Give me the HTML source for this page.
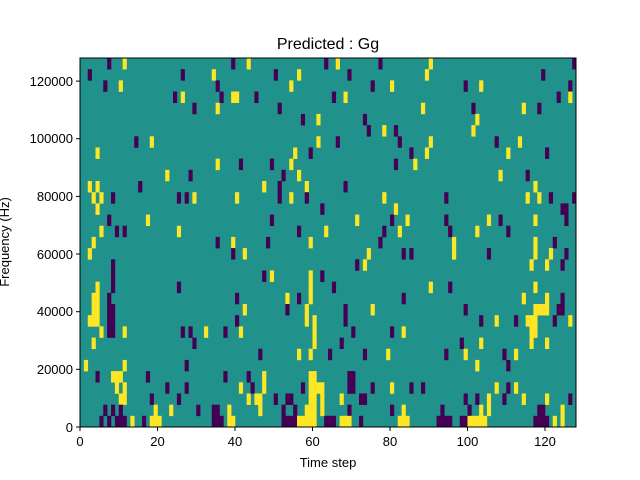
<!DOCTYPE html>
<html><head><meta charset="utf-8"><style>
html,body{margin:0;padding:0;background:#fff;}
svg{display:block;font-family:"Liberation Sans","DejaVu Sans",sans-serif;}
</style></head><body>
<svg id="s" width="640" height="480" viewBox="0 0 640 480" xmlns="http://www.w3.org/2000/svg">
<rect x="0" y="0" width="640" height="480" fill="#fff"/>
<g id="cells"><rect x="80" y="58" width="496" height="369" fill="#21918c"/></g>
<rect x="80" y="58" width="496" height="369" fill="none" stroke="#000" stroke-width="1"/>
<text x="328" y="49" font-size="16" text-anchor="middle">Predicted : Gg</text>
<g font-size="13" text-anchor="middle">
<text x="80" y="446">0</text><text x="157.5" y="446">20</text><text x="235" y="446">40</text><text x="312.5" y="446">60</text><text x="390" y="446">80</text><text x="467.5" y="446">100</text><text x="545" y="446">120</text>
</g>
<g stroke="#000" stroke-width="1">
<line x1="80" y1="427" x2="80" y2="431"/><line x1="157.5" y1="427" x2="157.5" y2="431"/><line x1="235" y1="427" x2="235" y2="431"/><line x1="312.5" y1="427" x2="312.5" y2="431"/><line x1="390" y1="427" x2="390" y2="431"/><line x1="467.5" y1="427" x2="467.5" y2="431"/><line x1="545" y1="427" x2="545" y2="431"/>
<line x1="76" y1="427" x2="80" y2="427"/><line x1="76" y1="369.3" x2="80" y2="369.3"/><line x1="76" y1="311.7" x2="80" y2="311.7"/><line x1="76" y1="254" x2="80" y2="254"/><line x1="76" y1="196.4" x2="80" y2="196.4"/><line x1="76" y1="138.7" x2="80" y2="138.7"/><line x1="76" y1="81.1" x2="80" y2="81.1"/>
</g>
<g font-size="13" text-anchor="end">
<text x="73" y="432">0</text><text x="73" y="374">20000</text><text x="73" y="316">40000</text><text x="73" y="259">60000</text><text x="73" y="201">80000</text><text x="73" y="143">100000</text><text x="73" y="86">120000</text>
</g>
<text x="328" y="467" font-size="13" text-anchor="middle">Time step</text>
<text transform="translate(9,242) rotate(-90)" font-size="13" text-anchor="middle">Frequency (Hz)</text>
</svg>
<script>
var D={
0:"P7 Y11 P39 Y43 P63 Y66 P77 Y90 P127",
1:"P2 P26 Y34 P50 Y56 P69 Y89 P119",
2:"P6 Y10 P35 Y54 P75 Y80 P99 Y103 P126",
3:"P24 Y26 P36 Y39 Y40 P45 P65 Y68 P123 Y126",
4:"P29 Y35 P51 Y88 P101 Y114 P118",
5:"P57 Y61 P73 Y102",
6:"P74 Y78 P81 Y101",
7:"P14 Y18 Y61 P66 P82 Y90 P107 Y113",
8:"Y4 Y55 P59 P85 Y89 Y110 P120",
9:"Y35 P41 P49 Y54 P81 Y86",
10:"Y22 P28 P52 Y56 Y108 P115",
11:"Y2 Y4 P15 Y47 P51 Y58 P68 Y117",
12:"Y3 Y5 P8 P25 P27 Y29 Y40 P51 Y54 P58 Y78 P94 Y115 Y118 P121 P127",
13:"Y4 P62 Y81 P124 P125",
14:"P7 Y17 P49 Y71 P80 Y84 P94 Y105 P108 Y117 P125",
15:"Y5 P9 P11 Y25 P56 Y63 P78 Y82 P95 Y102 P110",
16:"Y3 P35 Y39 P48 Y59 P77 Y96 Y117 P122",
17:"Y2 P39 Y42 Y74 P83 P85 Y96 P105 Y117 Y121 P125",
18:"P8 P71 Y73 Y116 Y120 P124",
19:"P8 P47 Y49 Y59 P62",
20:"Y4 P8 P25 Y59 P65 Y90 P95 Y117",
21:"Y3 Y4 P7 P40 Y53 P56 Y59 P83 Y114 Y120 P124",
22:"Y3 Y4 P7 P8 Y42 P53 Y58 P68 Y75 P99 Y117 Y118 Y119 Y120 P123 P124",
23:"Y2 Y3 Y4 P7 P8 P40 Y58 Y60 P68 P103 Y107 P112 Y115 Y116 Y117 P122 Y126",
24:"Y5 P7 P8 Y11 P26 P28 Y32 P37 Y41 Y60 P70 P80 Y83 Y116 Y117",
25:"Y3 P29 Y60 P67 P98 Y103 Y116 Y120",
26:"P46 Y56 Y59 P64 P73 Y79 P94 Y99 P109 Y112",
27:"Y1 Y11 P27 Y102 P110",
28:"P4 Y8 Y9 Y10 P17 P37 P43 Y47 Y59 Y60 P69 P70",
29:"Y9 Y11 P22 P27 Y41 P44 Y47 P57 Y59 Y60 Y61 Y62 P69 P70 P75 Y80 P85 P88 Y107 P110 Y112",
30:"Y10 Y11 P18 P25 Y43 Y45 Y46 P50 P53 P54 Y59 Y60 Y62 Y67 P72 P73 P99 P102 Y105 P109 Y114 Y120 P126",
31:"P6 P8 P10 Y19 Y23 P30 P34 P35 Y38 Y46 P52 P55 Y58 Y59 Y60 Y62 P69 P80 Y83 P93 P100 Y103 Y105 P118 P119 Y124",
32:"P5 P7 P9 P10 P11 Y13 P16 Y18 Y19 Y20 P34 P35 P36 Y38 Y39 P52 P53 P54 P55 Y56 Y57 Y58 Y59 Y60 P63 P64 P65 Y67 Y68 Y69 P72 Y82 Y83 Y84 P92 P93 P94 P95 P98 P99 Y100 Y101 Y102 Y103 Y104 P117 P118 P119 P120 Y122 Y124"
};
var g=document.getElementById("cells"),ns="http://www.w3.org/2000/svg",cw=496/128,rh=369/33;
for(var t in D){D[t].split(" ").forEach(function(s){var c=+s.slice(1);var r=document.createElementNS(ns,"rect");
var x0=80+c*cw,y0=58+(+t)*rh;
r.setAttribute("x",x0.toFixed(2));r.setAttribute("y",y0.toFixed(2));r.setAttribute("width",(cw+0.3).toFixed(2));r.setAttribute("height",(rh+0.3).toFixed(2));
r.setAttribute("fill",s[0]=="P"?"#440154":"#fde725");g.appendChild(r);});}
</script>
</body></html>
